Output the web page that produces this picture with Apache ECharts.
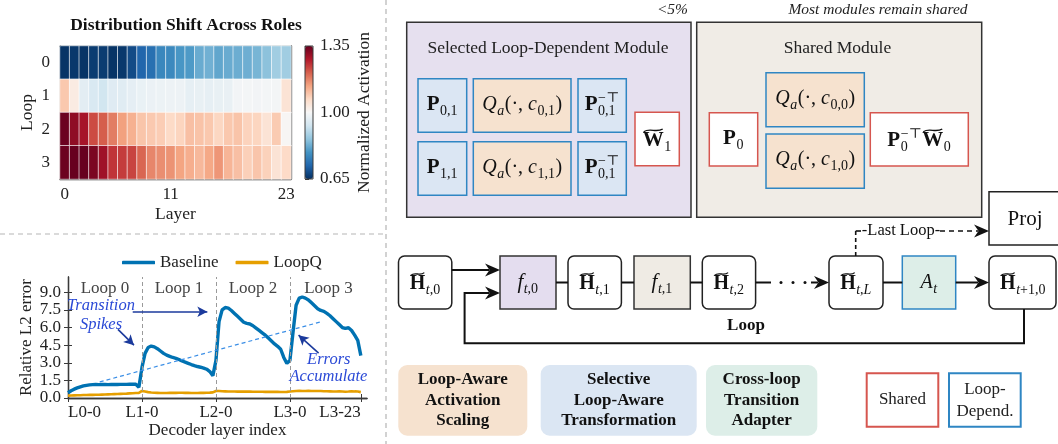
<!DOCTYPE html>
<html>
<head>
<meta charset="utf-8">
<script src="https://cdn.jsdelivr.net/npm/echarts@6/dist/echarts.min.js"></script>
<style>
  html, body { margin: 0; padding: 0; background: #fff; }
  #c { width: 1058px; height: 444px; }
</style>
</head>
<body>
<div id="c"></div>
<script>
// ---------- heatmap data: normalized activation per loop (rows) and layer (columns) ----------
const heatLoops = ['0', '1', '2', '3'];
const heatLayers = ['0','1','2','3','4','5','6','7','8','9','10','11','12','13','14','15','16','17','18','19','20','21','22','23'];
const heatTickLayers = ['0', '11', '23'];
const loop0Act = [0.655,0.66,0.655,0.665,0.665,0.655,0.66,0.685,0.72,0.735,0.772,0.775,0.794,0.80,0.824,0.831,0.817,0.824,0.826,0.828,0.837,0.856,0.877,0.877];
const loop1Act = [1.095,1.03,0.963,0.945,0.932,0.955,0.958,0.966,0.975,0.978,0.98,0.982,0.982,0.968,0.972,0.968,0.972,0.974,0.99,0.992,0.99,0.993,0.993,1.05];
const loop2Act = [1.345,1.313,1.291,1.23,1.212,1.181,1.144,1.125,1.099,1.093,1.088,1.07,1.078,1.106,1.101,1.095,1.075,1.095,1.10,1.08,1.077,1.05,1.091,1.005];
const loop3Act = [1.345,1.35,1.35,1.331,1.298,1.253,1.245,1.237,1.204,1.171,1.163,1.158,1.14,1.128,1.115,1.135,1.155,1.119,1.106,1.084,1.098,1.082,1.05,1.069];
const colorbarTicks = [0.65, 1.00, 1.35];

// ---------- line chart data: relative L2 error along decoder layers (4 loops x 24 layers) ----------
const baselineErr = [
  0.45,0.62,0.75,0.86,0.95,1.03,1.08,1.12,1.14,1.15,1.14,1.15,1.15,1.14,1.15,1.15,1.15,1.16,1.16,1.16,1.17,1.17,1.17,0.92,
  2.6,3.8,4.3,4.42,4.35,4.2,4.0,3.8,3.65,3.55,3.45,3.38,3.28,3.15,3.05,2.95,2.85,2.76,2.68,2.62,2.55,2.45,2.25,1.9,
  3.2,6.5,7.5,7.7,7.65,7.45,7.2,6.95,6.7,6.45,6.35,6.3,6.15,5.95,5.75,5.55,5.35,5.1,4.85,4.6,4.4,4.15,3.45,2.95,
  3.2,5.6,7.9,8.5,8.6,8.5,8.35,8.1,7.85,7.6,7.45,7.38,7.2,7.0,6.75,6.5,6.25,6.0,5.92,5.98,5.75,5.35,4.9,3.6
];
const loopqErr = [
  0.2,0.21,0.22,0.23,0.24,0.25,0.26,0.27,0.27,0.28,0.28,0.29,0.3,0.31,0.32,0.33,0.34,0.35,0.36,0.37,0.39,0.4,0.42,0.44,
  0.6,0.55,0.5,0.47,0.45,0.44,0.43,0.43,0.43,0.44,0.44,0.44,0.45,0.45,0.44,0.44,0.43,0.43,0.43,0.44,0.44,0.45,0.46,0.48,
  0.6,0.59,0.57,0.56,0.55,0.55,0.55,0.54,0.54,0.54,0.54,0.54,0.53,0.53,0.53,0.53,0.52,0.52,0.52,0.52,0.52,0.51,0.51,0.52,
  0.56,0.58,0.6,0.61,0.6,0.6,0.61,0.6,0.6,0.59,0.59,0.58,0.57,0.56,0.55,0.55,0.56,0.55,0.53,0.55,0.58,0.56,0.55,0.5
];
const layerTickPos = [0, 24, 48, 72, 95];
const layerTickLabels = ['L0-0', 'L1-0', 'L2-0', 'L3-0', 'L3-23'];
const errTicks = [0, 1.5, 3, 4.5, 6, 7.5, 9];
const loopNames = ['Loop 0', 'Loop 1', 'Loop 2', 'Loop 3'];
const loopStarts = [0, 24, 48, 72];
const layerAxisEnd = 97;

// annotation anchors, in (layer index, error) units
const trendLine = [[10.3, 1.37], [81.7, 6.46]];
const noteArrows = [
  [[21.0, 7.34], [45.2, 7.34]],
  [[16.2, 5.84], [21.4, 4.5]],
  [[81.3, 3.82], [74.8, 5.35]]
];
const noteTexts = [
  { name: 'Transition', coord: [10.7, 7.86] },
  { name: 'Spikes', coord: [10.7, 6.27] },
  { name: 'Errors', coord: [84.6, 3.3] },
  { name: 'Accumulate', coord: [84.5, 1.79] }
];

// ---------- styling ----------
const SERIF = '"Liberation Serif", "DejaVu Serif", serif';
const AX = '#3a3a3a';
const TXT = '#222';
const RDBU_R = ['#053061','#2166ac','#4393c3','#92c5de','#d1e5f0','#f7f7f7','#fddbc7','#f4a582','#d6604d','#b2182b','#67001f'];
const BLUE_STROKE = '#2f86c3';
const BLUE_FILL = '#dbe6f3';
const PEACH = '#f6e2cf';
const RED = '#d6564f';
const LAVENDER = '#e6e0ef';
const BEIGE = '#f0ece6';
const MINT = '#ddeee8';
const NOTE_BLUE = '#2a49d6';
const ARROW_BLUE = '#1b3a9c';

const heatRows = [loop0Act, loop1Act, loop2Act, loop3Act];
const heatData = [];
heatRows.forEach((row, r) => row.forEach((v, c) => heatData.push([c, r, v])));
const heatTickFilter = (idx) => heatTickLayers.indexOf(heatLayers[idx]) >= 0;

const tickStyle = { lineStyle: { color: AX, width: 1 }, length: 4 };
const lineAxis = { show: true, lineStyle: { color: AX, width: 1.3 } };
const labelFont = { fontSize: 17, fontFamily: SERIF, color: TXT };

// ---------- diagram helpers ----------
const mctx = document.createElement('canvas').getContext('2d');
function textWidth(t, fs, fw, st) {
  mctx.font = (st || 'normal') + ' ' + (fw || 'normal') + ' ' + fs + 'px ' + SERIF;
  return mctx.measureText(t).width;
}
function T(x, y, str, o) {
  o = o || {};
  const al = o.al || 'center', va = o.va || 'middle';
  const style = {
    text: str, x: x, y: y, fill: o.fill || TXT,
    fontSize: o.fs || 17, fontFamily: SERIF,
    fontWeight: o.fw || 'normal', fontStyle: o.st || 'normal',
    align: al, textAlign: al, verticalAlign: va, textVerticalAlign: va
  };
  if (o.bg) { style.backgroundColor = o.bg; style.padding = o.pad || [0, 2]; }
  return { type: 'text', z: o.z || 20, silent: true, style: style };
}
function R(x, y, w, h, fill, stroke, lw, r) {
  return { type: 'rect', z: 5, silent: true, shape: { x: x, y: y, width: w, height: h, r: r || 0 },
           style: { fill: fill, stroke: stroke || null, lineWidth: lw || 0 } };
}
function L(x1, y1, x2, y2, o) {
  o = o || {};
  return { type: 'line', z: 8, silent: true, shape: { x1: x1, y1: y1, x2: x2, y2: y2 },
           style: { stroke: o.c || '#111', lineWidth: o.w || 2, lineDash: o.dash || null } };
}
function head(tx, ty) {
  return { type: 'polygon', z: 9, silent: true,
           shape: { points: [[tx, ty], [tx - 15, ty - 6.5], [tx - 10.5, ty], [tx - 15, ty + 6.5]] },
           style: { fill: '#111' } };
}
function tilde(x1, x2, y) {
  const w = x2 - x1;
  return { type: 'bezierCurve', z: 21, silent: true,
           shape: { x1: x1, y1: y + 1.4, cpx1: x1 + w * 0.32, cpy1: y - 2.8, cpx2: x1 + w * 0.68, cpy2: y + 2.8, x2: x2, y2: y - 1.4 },
           style: { stroke: '#111', lineWidth: 1.3, fill: null } };
}
// math-like label: main glyphs plus stacked sub/superscripts, centred on cx with baseline by
function math(cx, by, parts) {
  const SCR = 14;
  const items = [];
  let total = 0;
  parts.forEach(p => {
    if (p.t !== undefined) {
      const fs = p.fs || 20;
      const w = textWidth(p.t, fs, p.fw, p.st);
      items.push({ p: p, w: w, fs: fs, main: true });
      total += w;
    } else {
      const frag = (arr) => (arr || []).reduce((s, f) => s + textWidth(f[0], SCR, 'normal', f[1] === 'i' ? 'italic' : 'normal'), 0);
      const w = Math.max(frag(p.sub), frag(p.sup)) + 1;
      items.push({ p: p, w: w, main: false });
      total += w;
    }
  });
  const els = [];
  let x = cx - total / 2;
  items.forEach(it => {
    const p = it.p;
    if (it.main) {
      els.push(T(x, by - 0.34 * it.fs, p.t, { fs: it.fs, fw: p.fw, st: p.st, al: 'left', fill: '#111' }));
      if (p.tilde) els.push(tilde(x + 1, x + it.w - 1, by - 0.66 * it.fs - 3.8));
    } else {
      const place = (arr, base) => {
        let sx = x + 0.5;
        (arr || []).forEach(f => {
          const st = f[1] === 'i' ? 'italic' : 'normal';
          els.push(T(sx, base - 0.34 * SCR, f[0], { fs: SCR, st: st, al: 'left', fill: '#111' }));
          sx += textWidth(f[0], SCR, 'normal', st);
        });
      };
      place(p.sub, by + 4.5);
      place(p.sup, by - 8.5);
    }
    x += it.w;
  });
  return els;
}
const Pb = (t, o) => Object.assign({ t: t, fw: 'bold', fs: 21 }, o || {});
const It = (t, o) => Object.assign({ t: t, st: 'italic', fs: 20 }, o || {});
const Rm = (t, o) => Object.assign({ t: t, fs: 20 }, o || {});
const Sc = (sub, sup) => ({ sub: sub, sup: sup });
const qLabel = (idx) => [It('Q'), Sc([['a', 'i']]), Rm('(\u00b7, '), It('c'), Sc([[idx]]), Rm(')')];
const hLabel = (sub) => [Pb('H', { tilde: true, fs: 20 }), Sc(sub)];

// ---------- diagram ----------
const G = [];
// panel separators
G.push(L(386, 0, 386, 444, { c: '#b5b5b5', w: 1.2, dash: [5, 4] }));
G.push(L(0, 234, 386, 234, { c: '#b5b5b5', w: 1.2, dash: [5, 4] }));

// heatmap title
G.push(T(186, 25, 'Distribution Shift Across Roles', { fs: 17.5, fw: 'bold', fill: '#111' }));
// colorbar outline
G.push({ type: 'rect', z: 30, silent: true, shape: { x: 305, y: 46, width: 8, height: 133 },
         style: { fill: null, stroke: AX, lineWidth: 1 } });

// module containers
G.push(T(688, 10, '<5%', { fs: 15.5, st: 'italic', al: 'right' }));
G.push(T(878, 10, 'Most modules remain shared', { fs: 15.5, st: 'italic' }));
G.push(R(406.7, 22.3, 284.3, 195, LAVENDER, '#333', 1.5));
G.push(R(696.7, 22.3, 285, 195, BEIGE, '#333', 1.5));
G.push(T(548, 48, 'Selected Loop-Dependent Module', { fs: 17.5 }));
G.push(T(837.5, 48, 'Shared Module', { fs: 17.5 }));

// loop-dependent blocks
[[78.7, '0,1', '0,1', '0,1'], [141.7, '1,1', '1,1', '0,1']].forEach(row => {
  const y = row[0];
  G.push(R(418, y, 48.7, 53.6, BLUE_FILL, BLUE_STROKE, 1.5));
  G.push(R(473.3, y, 97.7, 53.6, PEACH, BLUE_STROKE, 1.5));
  G.push(R(578, y, 48.3, 53.6, BLUE_FILL, BLUE_STROKE, 1.5));
  G.push(...math(442.3, y + 33.3, [Pb('P'), Sc([[row[1]]])]));
  G.push(...math(522.2, y + 32.8, qLabel(row[2])));
  G.push(...math(602.2, y + 33.3, [Pb('P'), Sc([[row[3]]], [['\u2212\u22a4']])]));
});
G.push(R(635, 112.3, 44.3, 53.4, '#fff', RED, 1.5));
G.push(...math(657.2, 148, [Pb('W', { tilde: true }), Sc([['1']])]));

// shared blocks
G.push(R(709.3, 112.7, 48.4, 53.3, '#fff', RED, 1.5));
G.push(...math(733.5, 146, [Pb('P'), Sc([['0']])]));
G.push(R(766, 72.7, 98.3, 54, PEACH, BLUE_STROKE, 1.5));
G.push(R(766, 134, 98.3, 54.3, PEACH, BLUE_STROKE, 1.5));
G.push(...math(815.2, 105.5, qLabel('0,0')));
G.push(...math(815.2, 167, qLabel('1,0')));
G.push(R(870.3, 112.7, 98, 53.3, '#fff', RED, 1.5));
G.push(...math(919.3, 148, [Pb('P'), Sc([['0']], [['\u2212\u22a4']]), Pb('W', { tilde: true }), Sc([['0']])]));

// projection head
G.push(R(989, 191.7, 75, 53.3, '#fff', '#222', 1.5));
G.push(T(1025, 219, 'Proj', { fs: 21, fill: '#111' }));

// loop flow
const FY = 256, FH = 53, FC = 282.5, HB = 291;
G.push(R(398.5, FY, 53.3, FH, '#fff', '#222', 1.5, 6));
G.push(R(500, FY, 56, FH, '#e4ddef', '#333', 1.5));
G.push(R(568, FY, 53.4, FH, '#fff', '#222', 1.5, 6));
G.push(R(634, FY, 56.3, FH, '#efebe4', '#333', 1.5));
G.push(R(702.3, FY, 53.3, FH, '#fff', '#222', 1.5, 6));
G.push(R(829, FY, 54, FH, '#fff', '#222', 1.5, 6));
G.push(R(902.3, FY, 53.4, FH, MINT, BLUE_STROKE, 1.5));
G.push(R(989, FY, 67, FH, '#fff', '#222', 1.5, 6));

G.push(...math(425.2, HB, hLabel([['t', 'i'], [',0']])));
G.push(...math(528, HB - 1, [It('f', { fs: 21 }), Sc([['t', 'i'], [',0']])]));
G.push(...math(594.7, HB, hLabel([['t', 'i'], [',1']])));
G.push(...math(662.2, HB - 1, [It('f', { fs: 21 }), Sc([['t', 'i'], [',1']])]));
G.push(...math(729, HB, hLabel([['t', 'i'], [',2']])));
G.push(...math(856, HB, hLabel([['t', 'i'], [','], ['L', 'i']])));
G.push(...math(929, HB - 1.5, [It('A'), Sc([['t', 'i']])]));
G.push(...math(1023, HB, hLabel([['t', 'i'], ['+1,0']])));

// connectors
G.push(L(451.8, 270, 489, 270)); G.push(head(500, 270));
G.push({ type: 'polyline', z: 8, silent: true,
         shape: { points: [[1024, 309], [1024, 343.3], [464.6, 343.3], [464.6, 293], [489, 293]] },
         style: { stroke: '#111', lineWidth: 2, fill: null } });
G.push(head(500, 293));
G.push(L(556, FC, 568, FC));
G.push(L(621.4, FC, 634, FC));
G.push(L(690.4, FC, 702.3, FC));
G.push(L(755.6, FC, 771, FC));
[781, 793, 805].forEach(x => G.push({ type: 'circle', z: 8, silent: true, shape: { cx: x, cy: FC, r: 1.5 }, style: { fill: '#111' } }));
G.push(L(811, FC, 818, FC)); G.push(head(829, FC));
G.push(L(883, FC, 902.3, FC));
G.push(L(955.7, FC, 978, FC)); G.push(head(989, FC));
G.push(T(746, 326, 'Loop', { fs: 17, fw: 'bold', fill: '#111' }));

// last-loop exit to the projection head
G.push(L(855.7, FY, 855.7, 231, { w: 1.6, dash: [4, 3] }));
G.push(L(855.7, 231, 861, 231, { w: 1.6 }));
G.push(L(940, 231, 978, 231, { w: 1.6, dash: [5, 4] }));
G.push(head(989, 231));
G.push(T(901, 231, '-Last Loop-', { fs: 16.5, fill: '#111' }));

// technique legend
[[398.3, 129, PEACH, ['Loop-Aware', 'Activation', 'Scaling']],
 [540.7, 156, BLUE_FILL, ['Selective', 'Loop-Aware', 'Transformation']],
 [706, 111.3, MINT, ['Cross-loop', 'Transition', 'Adapter']]].forEach(b => {
  G.push(R(b[0], 365, b[1], 70.7, b[2], null, 0, 9));
  b[3].forEach((s, i) => G.push(T(b[0] + b[1] / 2, 380 + i * 20.5, s, { fs: 17, fw: 'bold', fill: '#111' })));
});
G.push(R(866.7, 373.3, 71.6, 53.4, '#fff', RED, 2));
G.push(T(902.5, 400, 'Shared', { fs: 17 }));
G.push(R(949, 373.3, 71.7, 53.4, '#fff', BLUE_STROKE, 2));
G.push(T(985, 389.3, 'Loop-', { fs: 17 }));
G.push(T(985, 411.7, 'Depend.', { fs: 17 }));

// ---------- chart ----------
const chart = echarts.init(document.getElementById('c'), null, { renderer: 'canvas' });
const option = {
  animation: false,
  backgroundColor: '#fff',
  grid: [
    { left: 60, top: 46, width: 231, height: 133 },
    { left: 68, top: 277, width: 299, height: 121 },
    { left: 305, top: 46, width: 8, height: 133 }
  ],
  xAxis: [
    { type: 'category', gridIndex: 0, data: heatLayers, position: 'bottom',
      axisLine: lineAxis, splitLine: { show: false },
      axisTick: Object.assign({ alignWithLabel: true, interval: heatTickFilter }, tickStyle),
      axisLabel: Object.assign({ interval: heatTickFilter, margin: 7 }, labelFont),
      name: 'Layer', nameLocation: 'middle', nameGap: 26,
      nameTextStyle: { fontSize: 17.5, fontFamily: SERIF, color: TXT } },
    { type: 'category', gridIndex: 0, data: heatLayers, position: 'top',
      axisLine: lineAxis, splitLine: { show: false },
      axisTick: Object.assign({ alignWithLabel: true, interval: heatTickFilter }, tickStyle),
      axisLabel: { show: false } },
    { type: 'value', gridIndex: 1, min: 0, max: layerAxisEnd, position: 'bottom',
      axisLine: lineAxis, splitLine: { show: false },
      axisTick: Object.assign({ customValues: layerTickPos }, tickStyle),
      axisLabel: Object.assign({ customValues: layerTickPos, margin: 6,
        formatter: v => layerTickLabels[layerTickPos.indexOf(v)] || '',
        alignMinLabel: 'left', alignMaxLabel: 'right' }, labelFont),
      name: 'Decoder layer index', nameLocation: 'middle', nameGap: 22,
      nameTextStyle: { fontSize: 17, fontFamily: SERIF, color: TXT } },
    { type: 'value', gridIndex: 1, min: 0, max: layerAxisEnd, position: 'top',
      axisLine: lineAxis, splitLine: { show: false },
      axisTick: Object.assign({ customValues: layerTickPos }, tickStyle),
      axisLabel: { show: false } },
    { type: 'value', gridIndex: 2, min: 0, max: 1, show: false }
  ],
  yAxis: [
    { type: 'category', gridIndex: 0, data: heatLoops, inverse: true, position: 'left',
      axisLine: lineAxis, splitLine: { show: false },
      axisTick: Object.assign({ alignWithLabel: true }, tickStyle),
      axisLabel: Object.assign({ margin: 10 }, labelFont),
      name: 'Loop', nameLocation: 'middle', nameGap: 24, nameRotate: 90,
      nameTextStyle: { fontSize: 17.5, fontFamily: SERIF, color: TXT } },
    { type: 'category', gridIndex: 0, data: heatLoops, inverse: true, position: 'right',
      axisLine: lineAxis, splitLine: { show: false },
      axisTick: Object.assign({ alignWithLabel: true }, tickStyle),
      axisLabel: { show: false } },
    { type: 'value', gridIndex: 1, min: 0, max: 10.3, position: 'left',
      axisLine: lineAxis, splitLine: { show: false },
      axisTick: Object.assign({ customValues: errTicks }, tickStyle),
      axisLabel: Object.assign({ customValues: errTicks, margin: 7, formatter: v => v.toFixed(1) }, labelFont),
      name: 'Relative L2 error', nameLocation: 'middle', nameGap: 33, nameRotate: 90,
      nameTextStyle: { fontSize: 17, fontFamily: SERIF, color: TXT } },
    { type: 'value', gridIndex: 1, min: 0, max: 10.3, position: 'right',
      axisLine: lineAxis, splitLine: { show: false },
      axisTick: Object.assign({ customValues: errTicks }, tickStyle),
      axisLabel: { show: false } },
    { type: 'value', gridIndex: 2, min: 0.65, max: 1.35, position: 'right',
      axisLine: { show: false }, splitLine: { show: false },
      axisTick: Object.assign({ customValues: colorbarTicks }, tickStyle),
      axisLabel: Object.assign({ customValues: colorbarTicks, margin: 7, formatter: v => v.toFixed(2) }, labelFont),
      name: 'Normalized Activation', nameLocation: 'middle', nameGap: 42, nameRotate: 90,
      nameTextStyle: { fontSize: 17.5, fontFamily: SERIF, color: TXT } }
  ],
  visualMap: {
    type: 'continuous', seriesIndex: 0, min: 0.65, max: 1.35,
    calculable: false, orient: 'vertical', left: 305, top: 46,
    itemWidth: 8, itemHeight: 133, padding: 0, text: null, showLabel: false,
    inRange: { color: RDBU_R }
  },
  legend: {
    data: ['Baseline', 'LoopQ'], left: 117, top: 249,
    icon: 'roundRect', itemWidth: 33, itemHeight: 3.5, itemGap: 17,
    textStyle: { fontSize: 17, fontFamily: SERIF, color: TXT }
  },
  graphic: { elements: G },
  series: [
    { type: 'heatmap', xAxisIndex: 0, yAxisIndex: 0, data: heatData,
      itemStyle: { borderColor: 'rgba(255,255,255,0.8)', borderWidth: 0.8 },
      emphasis: { disabled: true } },
    { type: 'line', name: 'Baseline', xAxisIndex: 2, yAxisIndex: 2,
      data: baselineErr.map((v, i) => [i, v]),
      symbol: 'none', color: '#0072B2', lineStyle: { color: '#0072B2', width: 3.4 }, z: 3,
      markLine: {
        silent: true, symbol: ['none', 'none'], label: { show: false },
        data: [
          ...loopStarts.slice(1).map(x => ({ xAxis: x, lineStyle: { color: '#9a9a9a', width: 1, type: [4, 3] } })),
          [{ coord: trendLine[0], lineStyle: { color: '#3a8ee6', width: 1.2, type: [4, 3] } }, { coord: trendLine[1] }],
          ...noteArrows.map(a => [
            { coord: a[0], symbol: 'none', lineStyle: { color: ARROW_BLUE, width: 1.6, type: 'solid' } },
            { coord: a[1], symbol: 'arrow', symbolSize: [8, 10] }
          ])
        ]
      },
      markArea: {
        silent: true, itemStyle: { color: 'rgba(0,0,0,0)' },
        label: { show: true, position: 'insideTop', distance: 3, fontSize: 17, fontFamily: SERIF, color: '#444' },
        data: loopNames.map((n, i) => [{ name: n, xAxis: loopStarts[i] }, { xAxis: i < loopStarts.length - 1 ? loopStarts[i + 1] : layerAxisEnd }])
      } },
    { type: 'line', name: 'LoopQ', xAxisIndex: 2, yAxisIndex: 2,
      data: loopqErr.map((v, i) => [i, v]),
      symbol: 'none', color: '#E69F00', lineStyle: { color: '#E69F00', width: 2.6 }, z: 4,
      markPoint: {
        silent: true, symbol: 'circle', symbolSize: 0,
        label: { show: true, position: 'inside', formatter: '{b}', color: NOTE_BLUE,
                 fontStyle: 'italic', fontSize: 16.5, fontFamily: SERIF },
        data: noteTexts.map(n => ({ name: n.name, coord: n.coord }))
      } }
  ]
};
chart.setOption(option);
</script>
</body>
</html>
